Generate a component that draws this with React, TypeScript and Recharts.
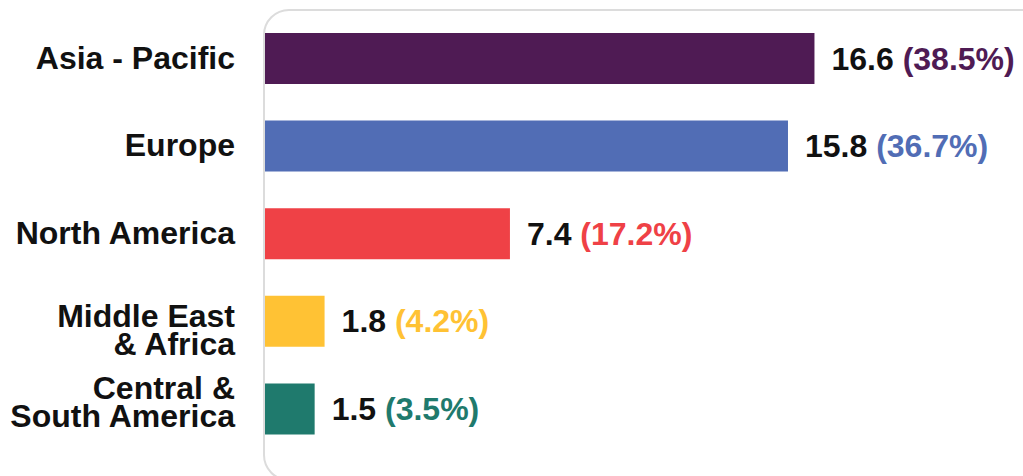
import React from 'react';
import { BarChart, Bar, XAxis, YAxis, Cell, LabelList } from 'recharts';

const regions = ['Asia - Pacific', 'Europe', 'North America', 'Middle East\n& Africa', 'Central &\nSouth America'];
const values = [16.6, 15.8, 7.4, 1.8, 1.5];
const shares = ['38.5%', '36.7%', '17.2%', '4.2%', '3.5%'];
const colors = ['#4f1b54', '#516db5', '#ef4146', '#ffc234', '#1f7a6d'];

const data = regions.map((region, i) => ({ region, value: values[i], share: shares[i] }));

const FONT = '"Liberation Sans", Arial, sans-serif';
// small vertical nudges so the wrapped labels sit like the original
const tickShift = [0, 0, 0, 9, -6];

function RegionTick({ x, y, payload, index }: any) {
  const lines = String(payload.value).split('\n');
  const lineH = 28;
  const first = y + 10 + (tickShift[index] || 0) - ((lines.length - 1) * lineH) / 2;
  return (
    <text x={x - 22} y={first} textAnchor="end" fontFamily={FONT} fontWeight="bold" fontSize={32} fill="#111">
      {lines.map((l, i) => (
        <tspan key={i} x={x - 22} y={first + i * lineH}>
          {l}
        </tspan>
      ))}
    </text>
  );
}

function ValueLabel(props: any) {
  const { x, y, width, height, index } = props;
  return (
    <text
      x={x + width + 17}
      y={y + height / 2 + 11}
      fontFamily={FONT}
      fontWeight="bold"
      fontSize={32}
      fill="#111"
    >
      {values[index]}
      <tspan fill={colors[index]}>{` (${shares[index]})`}</tspan>
    </text>
  );
}

export default function App() {
  return (
    <div style={{ position: 'absolute', left: 0, top: 0, width: 1023, height: 476, overflow: 'hidden', background: '#fff' }}>
      <div
        style={{
          position: 'absolute',
          left: 263,
          top: 9,
          width: 820,
          height: 468,
          border: '2px solid #dcdcdc',
          borderRadius: 26,
        }}
      />
      <div style={{ position: 'absolute', left: 0, top: 0 }}>
        <BarChart
          width={1023}
          height={476}
          data={data}
          layout="vertical"
          margin={{ top: 15, right: 0, bottom: 23, left: 0 }}
        >
          <XAxis type="number" hide domain={[0, 22.9]} />
          <YAxis
            type="category"
            dataKey="region"
            width={265}
            axisLine={false}
            tickLine={false}
            tick={<RegionTick />}
            interval={0}
          />
          <Bar dataKey="value" barSize={51} isAnimationActive={false}>
            {data.map((d, i) => (
              <Cell key={d.region} fill={colors[i]} />
            ))}
            <LabelList dataKey="value" content={<ValueLabel />} />
          </Bar>
        </BarChart>
      </div>
    </div>
  );
}
